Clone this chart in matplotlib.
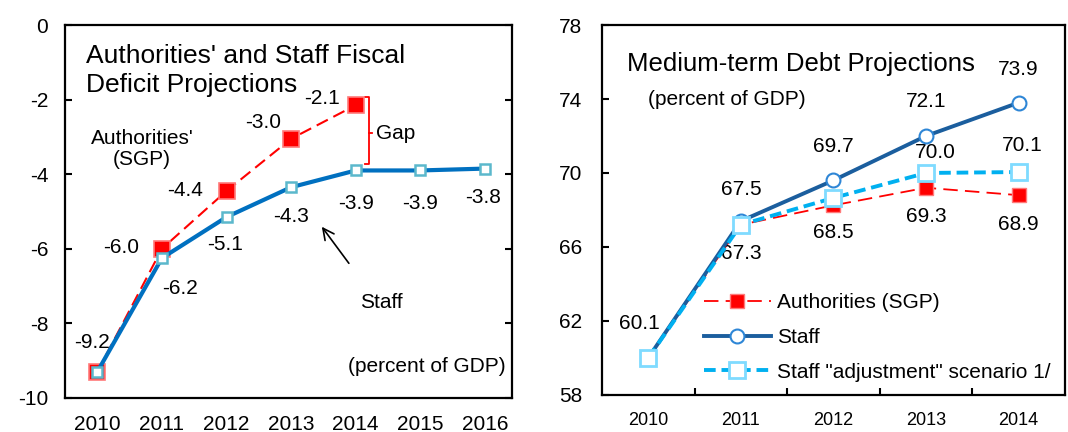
import matplotlib
matplotlib.use("Agg")
import matplotlib.pyplot as plt

plt.rcParams['font.family'] = ['Liberation Sans', 'DejaVu Sans']

# left panel: fiscal deficit
def_years = [2010, 2011, 2012, 2013, 2014, 2015, 2016]
auth_def = [-9.3, -6.0, -4.45, -3.05, -2.15]
staff_def = [-9.3, -6.25, -5.15, -4.35, -3.9, -3.9, -3.85]
auth_def_lbl = ['-9.2', '-6.0', '-4.4', '-3.0', '-2.1']
staff_def_lbl = [None, '-6.2', '-5.1', '-4.3', '-3.9', '-3.9', '-3.8']

# right panel: debt
debt_years = [2010, 2011, 2012, 2013, 2014]
auth_debt = [60.0, 67.2, 68.25, 69.2, 68.8]
staff_debt = [60.0, 67.4, 69.6, 72.0, 73.8]
adj_debt = [60.0, 67.2, 68.65, 70.0, 70.05]
auth_debt_lbl = [None, '67.3', '68.5', '69.3', '68.9']
staff_debt_lbl = ['60.1', '67.5', '69.7', '72.1', '73.9']
adj_debt_lbl = [None, None, None, '70.0', '70.1']

FS = 15
fig = plt.figure(figsize=(10.68, 4.32), dpi=100)

# ---------- left ----------
ax = fig.add_axes([0.0609, 0.079, 0.4185, 0.863])
ax.plot(def_years[:len(auth_def)], auth_def, color='red', lw=1.5, dashes=(6, 3),
        marker='s', ms=12, mfc='red', mec='#ff7a7a', mew=1.2, zorder=3)
ax.plot(def_years, staff_def, color='#0070C0', lw=3, marker='s', ms=6.5,
        mfc='white', mec='#5BB8CC', mew=1.8, zorder=4)
ax.set_xlim(2009.5, 2016.42)
ax.set_ylim(-10, 0)
ax.set_yticks([-10, -8, -6, -4, -2, 0])
ax.set_yticklabels(['-10', '-8', '-6', '-4', '-2', '0'])
ax.set_xticks(def_years)
ax.tick_params(axis='y', direction='in', length=5, width=1.5, left=True, right=True,
               labelsize=FS, pad=12)
ax.tick_params(axis='x', length=0, labelsize=FS, pad=12)
for s in ax.spines.values():
    s.set_linewidth(1.6)

auth_off = [(-4, 21), (-29.5, 1), (-29.5, 0), (-20, 12), (-24, 4.5)]
for x, y, t, o in zip(def_years, auth_def, auth_def_lbl, auth_off):
    ax.annotate(t, (x, y), xytext=o, textcoords='offset points', ha='center',
                va='center', fontsize=FS, zorder=6)
staff_off = [None, (13, -21.6), (-1, -20), (0, -21), (0, -24), (0, -24), (-1, -21)]
for x, y, t, o in zip(def_years, staff_def, staff_def_lbl, staff_off):
    if t:
        ax.annotate(t, (x, y), xytext=o, textcoords='offset points', ha='center',
                    va='center', fontsize=FS)

# title as two lines so the -2.1 label can sit next to the short second line
ax.text(0.047, 0.917, "Authorities' and Staff Fiscal", transform=ax.transAxes,
        fontsize=19, va='center', ha='left')
ax.text(0.047, 0.840, "Deficit Projections", transform=ax.transAxes,
        fontsize=19, va='center', ha='left')
ax.text(0.172, 0.668, "Authorities'\n(SGP)", transform=ax.transAxes, fontsize=FS,
        ha='center', va='center', linespacing=1.1)
ax.text(0.985, 0.085, "(percent of GDP)", transform=ax.transAxes, fontsize=FS,
        ha='right', va='center')

# gap bracket
gx = 2014.2
ax.plot([gx - 0.05, gx, gx, gx - 0.05], [-1.93, -1.93, -3.72, -3.72], color='red', lw=1.3)
ax.plot([gx, gx + 0.05], [-2.9, -2.9], color='red', lw=1.3)
ax.text(gx + 0.11, -2.9, 'Gap', fontsize=FS, va='center', ha='left')

ax.annotate('', xy=(2013.45, -5.35), xytext=(2013.92, -6.45),
            arrowprops=dict(arrowstyle='->', color='black', lw=1.2, mutation_scale=20))
ax.text(2014.4, -7.43, 'Staff', fontsize=FS, ha='center', va='center')

# ---------- right ----------
ax2 = fig.add_axes([0.5637, 0.086, 0.4333, 0.856])
ax2.plot(debt_years, auth_debt, color='red', lw=1.3, dashes=(8, 4), marker='s',
         ms=10, mfc='red', mec='#ff7a7a', mew=1, zorder=3, label='Authorities (SGP)')
ax2.plot(debt_years, staff_debt, color='#1B5E9E', lw=2.8, marker='o', ms=10,
         mfc='white', mec='#2E86D6', mew=1.5, zorder=4, label='Staff')
ax2.plot(debt_years, adj_debt, color='#00B0F0', lw=2.8, dashes=(3, 1.5), marker='s',
         ms=11, mfc='white', mec='#7FDBFF', mew=2, zorder=5,
         label='Staff "adjustment" scenario 1/')
ax2.set_xlim(2009.5, 2014.5)
ax2.set_ylim(58, 78)
ax2.set_yticks([58, 62, 66, 70, 74, 78])
ax2.set_xticks(debt_years)
ax2.set_xticks([2010.5, 2011.5, 2012.5, 2013.5], minor=True)
ax2.tick_params(axis='y', direction='in', length=5, width=1.5, labelsize=FS, pad=14)
ax2.tick_params(axis='x', which='major', length=0, labelsize=13, pad=12)
ax2.tick_params(axis='x', which='minor', direction='in', length=5, width=1.5)
for s in ax2.spines.values():
    s.set_linewidth(1.6)

sd_off = [(-6.5, 25), (0, 23), (0, 24.5), (0, 25), (0, 24)]
for x, y, t, o in zip(debt_years, staff_debt, staff_debt_lbl, sd_off):
    ax2.annotate(t, (x, y), xytext=o, textcoords='offset points', ha='center',
                 va='center', fontsize=FS)
ad_off = [(0, -21), (0, -19.5), (0, -21), (0, -21)]
for x, y, t, o in zip(debt_years[1:], auth_debt[1:], auth_debt_lbl[1:], ad_off):
    ax2.annotate(t, (x, y), xytext=o, textcoords='offset points', ha='center',
                 va='center', fontsize=FS)
adj_off = [(6.5, 15), (3, 19)]
for x, y, t, o in zip(debt_years[3:], adj_debt[3:], adj_debt_lbl[3:], adj_off):
    ax2.annotate(t, (x, y), xytext=o, textcoords='offset points', ha='center',
                 va='center', fontsize=FS)

ax2.text(0.054, 0.895, 'Medium-term Debt Projections', transform=ax2.transAxes,
         fontsize=18.5, ha='left', va='center')
ax2.text(0.1, 0.798, '(percent of GDP)', transform=ax2.transAxes, fontsize=FS,
         ha='left', va='center')
ax2.legend(loc='lower left', bbox_to_anchor=(0.18, -0.015), frameon=False,
           fontsize=FS, handlelength=3.2, handletextpad=0.3, labelspacing=0.75)

fig.savefig('out.png', dpi=100)
